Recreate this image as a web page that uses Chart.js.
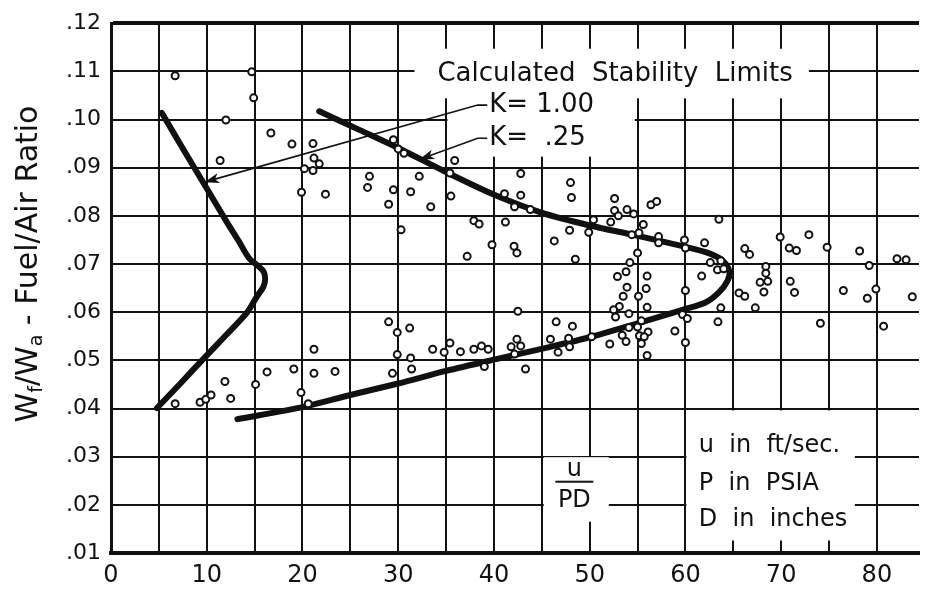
<!DOCTYPE html>
<html>
<head>
<meta charset="utf-8">
<title>Calculated Stability Limits</title>
<script src="https://cdn.jsdelivr.net/npm/chart.js@4/dist/chart.umd.min.js"></script>
<style>
  html, body { margin: 0; padding: 0; background: #fff; }
  #wrap { width: 925px; height: 590px; }
</style>
</head>
<body>
<div id="wrap"><canvas id="stabilityChart" width="925" height="590"></canvas></div>
<script>
// values: u/PD on x, fuel/air ratio on y
const xTickValues = [0, 5, 10, 15, 20, 25, 30, 35, 40, 45, 50, 55, 60, 65, 70, 75, 80];
const xTickLabels = ['0', '', '10', '', '20', '', '30', '', '40', '', '50', '', '60', '', '70', '', '80'];
const yTickValues = [0.01, 0.02, 0.03, 0.04, 0.05, 0.06, 0.07, 0.08, 0.09, 0.10, 0.11, 0.12];
const yTickLabels = ['.01', '.02', '.03', '.04', '.05', '.06', '.07', '.08', '.09', '.10', '.11', '.12'];

// test points (open circles)
const testX = [
  6.7, 14.7, 14.9, 12.0, 16.7, 18.9, 21.1, 21.2, 20.2, 21.1, 21.75, 11.4, 19.9, 22.4, 27.0, 26.8,
  29.5, 30.0, 30.6, 29.5, 29.0, 31.3, 32.2, 33.4, 30.3, 35.9, 35.4, 35.5, 37.9, 38.45, 41.2, 39.8,
  37.2, 41.1, 42.8, 42.8, 42.15, 43.8, 42.1, 42.4, 48.0, 48.1, 46.3, 47.9, 48.5, 49.9, 50.4, 52.2,
  52.6, 52.6, 53.0, 53.9, 54.6, 56.4, 57.0, 55.6, 55.15, 54.4, 57.2, 57.2, 59.9, 60.0, 55.0, 54.2,
  53.8, 52.9, 56.0, 53.9, 55.9, 53.5, 55.1, 53.1, 52.5, 52.7, 54.1, 56.0, 55.4, 54.1, 55.0, 53.4,
  56.1, 55.2, 55.7, 53.8, 55.4, 56.0, 52.1, 58.9, 60.0, 59.7, 60.2, 60.0, 42.5, 46.5, 48.2, 45.9,
  47.8, 47.9, 46.7, 50.2, 42.4, 41.8, 42.8, 42.15, 43.3, 62.0, 63.5, 62.6, 63.7, 63.35, 64.0, 61.7,
  66.2, 66.7, 68.4, 68.4, 68.6, 67.8, 68.2, 65.6, 66.2, 69.9, 70.85, 71.6, 72.9, 74.8, 78.2, 79.2,
  70.95, 71.4, 76.5, 82.1, 83.05, 83.7, 79.9, 79.0, 67.3, 63.7, 63.4, 74.1, 80.7, 6.7, 9.3, 9.9,
  10.45, 11.9, 12.5, 15.1, 16.3, 19.1, 19.85, 20.6, 21.2, 21.2, 23.4, 29.0, 29.9, 31.2, 29.9, 31.3,
  31.4, 29.4, 33.6, 34.8, 35.4, 36.5, 37.9, 38.7, 39.4, 39.0
];
const testY = [
  .1091, .1099, .1045, .0999, .0972, .0949, .0950, .0920, .0898, .0894, .0908, .0915, .0849, .0845, .0882, .0859,
  .0958, .0939, .0930, .0854, .0824, .0850, .0882, .0819, .0771, .0915, .0889, .0841, .0790, .0783, .0787, .0740,
  .0716, .0846, .0888, .0843, .0819, .0813, .0737, .0723, .0869, .0838, .0748, .0770, .0710, .0766, .0792, .0787,
  .0836, .0811, .0800, .0813, .0804, .0823, .0830, .0782, .0765, .0761, .0757, .0744, .0750, .0733, .0723, .0703,
  .0684, .0674, .0675, .0652, .0649, .0633, .0633, .0612, .0605, .0590, .0597, .0610, .0582, .0568, .0569, .0552,
  .0559, .0551, .0549, .0539, .0535, .0510, .0534, .0561, .0645, .0595, .0587, .0537, .0602, .0580, .0571, .0544,
  .0546, .0528, .0517, .0549, .0544, .0528, .0530, .0513, .0482, .0744, .0793, .0703, .0707, .0688, .0690, .0675,
  .0732, .0720, .0695, .0681, .0664, .0662, .0642, .0640, .0633, .0756, .0733, .0728, .0761, .0735, .0727, .0697,
  .0664, .0641, .0645, .0711, .0709, .0632, .0648, .0629, .0609, .0609, .0580, .0577, .0571, .0410, .0413, .0419,
  .0428, .0456, .0421, .0450, .0476, .0482, .0433, .0410, .0523, .0473, .0477, .0580, .0558, .0567, .0512, .0505,
  .0482, .0473, .0523, .0517, .0536, .0518, .0523, .0530, .0523, .0487
];

// calculated limit, K = 1.00 (left curve)
const k100X = [4.8, 7.2, 9.6, 11.9, 14.2, 15.25, 15.9, 16.1, 15.95, 15.3, 14.42, 13.3, 12.1, 9.85, 7.5, 5.3];
const k100Y = [.0401, .0451, .0502, .0550, .0599, .0633, .0652, .0668, .0684, .0697, .0712, .0749, .0787, .0862, .0940, .1014];

// calculated limit, K = .25 (right curve)
const k025X = [13.2, 20, 25, 30, 35, 40.35, 45.2, 50.2, 55, 59.7, 62.1, 63.5, 64.4, 64.6, 64.0, 62.5,
  59.7, 54.9, 50, 45.2, 40.35, 35.2, 30, 26, 21.75];
const k025Y = [.0378, .0403, .0428, .0452, .0478, .0503, .0525, .0549, .0577, .0605, .0620, .0641, .0665, .0684, .0705, .0722,
  .0737, .0759, .0780, .0805, .0841, .0889, .0941, .0978, .1017];

// leader lines from the labels to the curves
const k100LeaderX = [39.3, 38.3, 9.75];
const k100LeaderY = [.1030, .1030, .0870];
const k025LeaderX = [39.3, 38.3, 32.2];
const k025LeaderY = [.0961, .0961, .0917];

const toPoints = (xs, ys) => xs.map((x, i) => ({ x: x, y: ys[i] }));

const FONT = '"DejaVu Sans", sans-serif';
const INK = '#111';

// areas where the printed grid is broken for the lettering (data units)
const clearBoxes = [
  { x0: 31.7, x1: 72.9, y0: .1044, y1: .1147 },
  { x0: 35.15, x1: 54.7, y0: .0923, y1: .1044 },
  { x0: 60.1, x1: 77.7, y0: .0126, y1: .0396 },
  { x0: 45.2, x1: 52.0, y0: .0165, y1: .0299 }
];

const annotations = {
  id: 'annotations',
  beforeDatasetsDraw(chart) {
    const { ctx, scales: { x, y } } = chart;
    ctx.save();
    ctx.fillStyle = '#fff';
    clearBoxes.forEach(b => {
      const px0 = x.getPixelForValue(b.x0), px1 = x.getPixelForValue(b.x1);
      const py0 = y.getPixelForValue(b.y1), py1 = y.getPixelForValue(b.y0);
      ctx.fillRect(px0, py0, px1 - px0, py1 - py0);
    });
    ctx.restore();
  },
  afterDatasetsDraw(chart) {
    const { ctx, scales: { x, y } } = chart;
    ctx.save();
    ctx.fillStyle = INK;
    ctx.textBaseline = 'middle';
    const put = (text, dx, dy, size, align) => {
      ctx.font = size + 'px ' + FONT;
      ctx.textAlign = align || 'left';
      ctx.fillText(text, x.getPixelForValue(dx), y.getPixelForValue(dy));
    };
    put('Calculated  Stability  Limits', 34.1, .1095, 26);
    put('K= 1.00', 39.5, .1030, 26);
    put('K=  .25', 39.5, .0962, 26);
    put('u  in  ft/sec.', 61.4, .0322, 24);
    put('P  in  PSIA', 61.4, .0244, 24);
    put('D  in  inches', 61.4, .0168, 24);

    // u / PD
    put('u', 48.4, .0272, 24, 'center');
    put('PD', 48.4, .0209, 24, 'center');
    const cx = x.getPixelForValue(48.4), by = y.getPixelForValue(.0248);
    ctx.fillRect(cx - 19, by - 1, 38, 2);

    // arrow heads on the leader lines
    [1, 2].forEach(i => {
      const pts = chart.getDatasetMeta(i).data;
      const tip = pts[pts.length - 1], prev = pts[pts.length - 2];
      const a = Math.atan2(tip.y - prev.y, tip.x - prev.x);
      ctx.save();
      ctx.translate(tip.x, tip.y);
      ctx.rotate(a);
      ctx.beginPath();
      ctx.moveTo(0, 0);
      ctx.lineTo(-15, -5);
      ctx.lineTo(-11, 0);
      ctx.lineTo(-15, 5);
      ctx.closePath();
      ctx.fill();
      ctx.restore();
    });

    // y axis title with subscripts, read bottom to top
    const parts = [
      { t: 'W', sub: false }, { t: 'f', sub: true }, { t: '/', sub: false },
      { t: 'W', sub: false }, { t: 'a', sub: true }, { t: ' - Fuel/Air Ratio', sub: false }
    ];
    const big = 30, small = 19;
    let total = 0;
    parts.forEach(p => {
      ctx.font = (p.sub ? small : big) + 'px ' + FONT;
      p.w = ctx.measureText(p.t).width;
      total += p.w;
    });
    ctx.translate(27, 264);
    ctx.rotate(-Math.PI / 2);
    ctx.textAlign = 'left';
    ctx.textBaseline = 'alphabetic';
    let cur = -total / 2;
    parts.forEach(p => {
      ctx.font = (p.sub ? small : big) + 'px ' + FONT;
      ctx.fillText(p.t, cur, p.sub ? 15 : 10);
      cur += p.w;
    });
    ctx.restore();
  }
};

const ctx = document.getElementById('stabilityChart').getContext('2d');
new Chart(ctx, {
  type: 'scatter',
  data: {
    datasets: [
      {
        label: 'Tests',
        data: toPoints(testX, testY),
        pointRadius: 3.5,
        pointBorderWidth: 2,
        pointBackgroundColor: '#fff',
        pointBorderColor: INK,
        showLine: false
      },
      {
        label: 'K = 1.00 leader',
        data: toPoints(k100LeaderX, k100LeaderY),
        showLine: true,
        borderColor: INK,
        borderWidth: 1.6,
        pointRadius: 0
      },
      {
        label: 'K = .25 leader',
        data: toPoints(k025LeaderX, k025LeaderY),
        showLine: true,
        borderColor: INK,
        borderWidth: 1.6,
        pointRadius: 0
      },
      {
        label: 'K = 1.00',
        data: toPoints(k100X, k100Y),
        showLine: true,
        borderColor: INK,
        borderWidth: 6,
        tension: 0.3,
        borderCapStyle: 'round',
        borderJoinStyle: 'round',
        pointRadius: 0
      },
      {
        label: 'K = .25',
        data: toPoints(k025X, k025Y),
        showLine: true,
        borderColor: INK,
        borderWidth: 6,
        tension: 0.3,
        borderCapStyle: 'round',
        borderJoinStyle: 'round',
        pointRadius: 0
      }
    ]
  },
  options: {
    responsive: false,
    animation: false,
    devicePixelRatio: 1,
    layout: { padding: { top: 17, right: 0, left: 0, bottom: 0 } },
    plugins: {
      legend: { display: false },
      tooltip: { enabled: false }
    },
    scales: {
      x: {
        type: 'linear',
        min: 0,
        max: 84.4,
        afterBuildTicks: s => { s.ticks = xTickValues.map(v => ({ value: v })); },
        afterFit: s => { s.height = 37; },
        grid: { color: INK, lineWidth: 2, drawTicks: false },
        border: { color: INK, width: 4 },
        ticks: {
          color: INK,
          padding: 8,
          autoSkip: false,
          maxRotation: 0,
          font: { family: FONT, size: 24 },
          callback: (v, i) => xTickLabels[i]
        }
      },
      y: {
        type: 'linear',
        min: 0.01,
        max: 0.12,
        afterBuildTicks: s => { s.ticks = yTickValues.map(v => ({ value: v })); },
        afterFit: s => { s.width = 111; },
        grid: {
          color: INK,
          drawTicks: false,
          lineWidth: c => (c.index === yTickValues.length - 1 ? 4 : 2)
        },
        border: { color: INK, width: 3 },
        ticks: {
          color: INK,
          padding: 10,
          autoSkip: false,
          font: { family: FONT, size: 22 },
          callback: (v, i) => yTickLabels[i]
        }
      }
    }
  },
  plugins: [annotations]
});
</script>
</body>
</html>
